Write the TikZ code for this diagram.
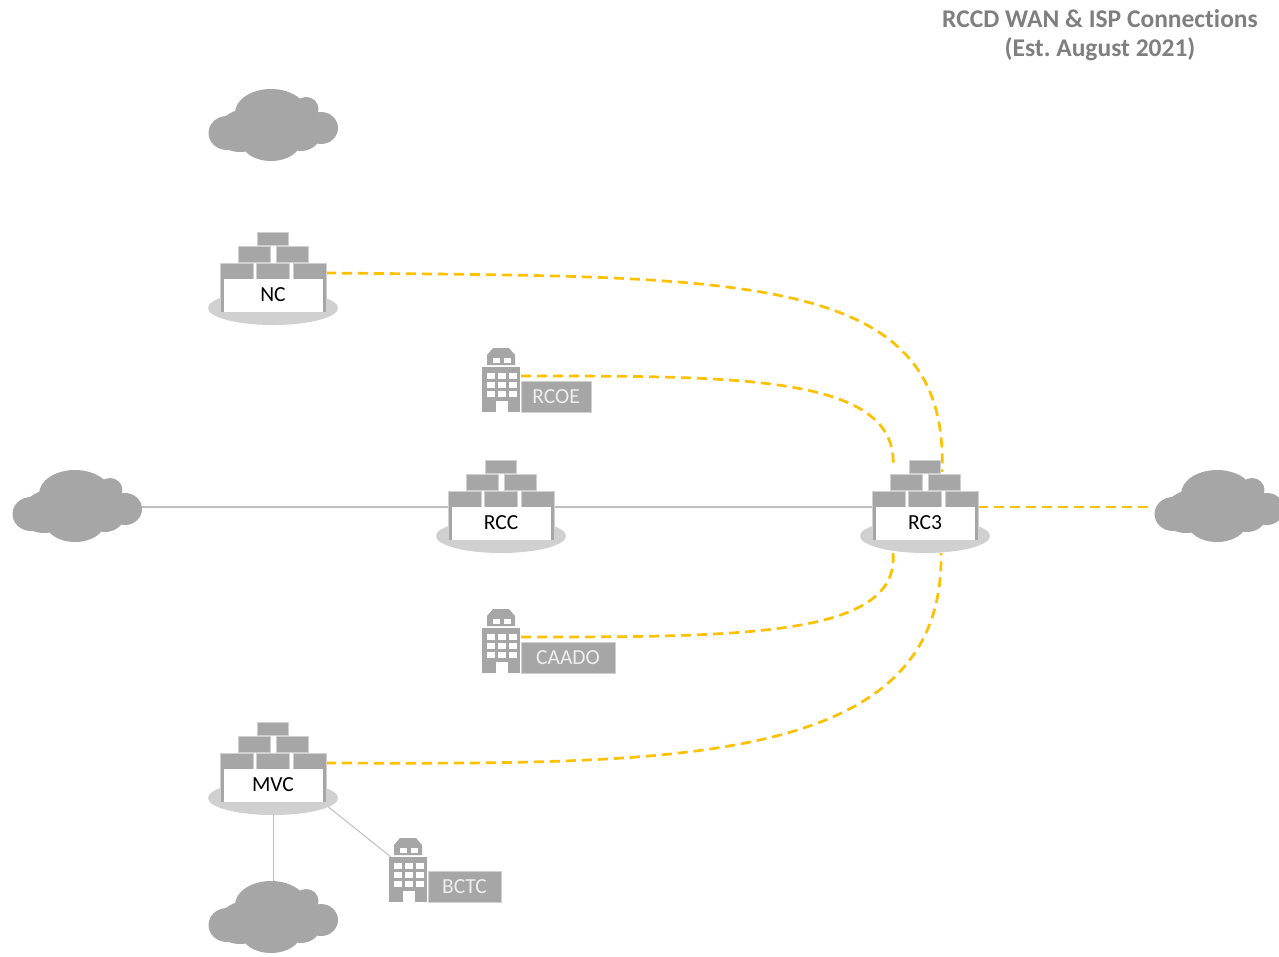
\documentclass[tikz,border=0pt]{standalone}
\usepackage{fontspec}
\setmainfont{Carlito}[Ligatures=NoCommon]
\usetikzlibrary{backgrounds}
\definecolor{blockgray}{HTML}{A6A6A6}
\definecolor{padgray}{HTML}{D0D0D0}
\definecolor{linkgray}{HTML}{BFBFBF}
\definecolor{wanyellow}{HTML}{FFC000}
\definecolor{titlegray}{HTML}{7F7F7F}
\tikzset{
    wan/.style={wanyellow, line width=2.7pt, dash pattern=on 10pt off 6pt},
    isp/.style={linkgray, line width=1.5pt},
    thinisp/.style={linkgray, line width=1pt},
    block/.style={fill=blockgray, draw=padgray, line width=1pt},
    sitebox/.style={fill=white, inner sep=0pt, minimum width=99pt, minimum height=33pt, font=\fontsize{21.5}{21.5}\selectfont},
    tagbox/.style={fill=blockgray, draw=padgray, line width=.6pt, inner sep=0pt, minimum height=31pt, text=white!93!black, font=\fontsize{21.5}{21.5}\selectfont},
    titletext/.style={titlegray, inner sep=0pt, font=\frenchspacing\fontsize{25.5}{25.5}\selectfont\bfseries},
    cloud/.pic={
        \fill[blockgray] (-46,8) ellipse [x radius=18.5, y radius=17];
        \fill[blockgray] (-2,-12) ellipse [x radius=36, y radius=24];
        \fill[blockgray] (33,-16) ellipse [x radius=12.5, y radius=12];
        \fill[blockgray] (48,3) ellipse [x radius=17, y radius=16];
        \fill[blockgray] (-2,16) ellipse [x radius=30, y radius=20];
        \fill[blockgray] (-33,15) ellipse [x radius=20, y radius=12];
        \fill[blockgray] (28,8) ellipse [x radius=20, y radius=18];
        \fill[blockgray] (-4,0) ellipse [x radius=48, y radius=20];
        \coordinate (-w) at (-65,1);
        \coordinate (-e) at (65,1);
        \coordinate (-n) at (0,-36);
    },
    campus/.pic={
        \fill[padgray] (0,14) ellipse [x radius=65, y radius=17];
        \draw[block] (-16,-62) rectangle (15,-49);
        \foreach \x in {-35,3} {\draw[block] (\x,-48) rectangle (\x+32,-32);}
        \foreach \x in {-53,-17,20} {\draw[block] (\x,-31) rectangle (\x+33,18);}
        \node[sitebox] (-box) at (0,1) {#1};
        \coordinate (-w) at (-53,-15);
        \coordinate (-e) at (53,-15);
        \coordinate (-ne) at (53,-21);
        \coordinate (-nl) at (-32,-54);
        \coordinate (-nr) at (17,-50);
        \coordinate (-sl) at (-32,31);
        \coordinate (-sr) at (16,31);
        \coordinate (-s) at (0,31);
        \coordinate (-se) at (53,21);
    },
    office/.pic={
        \fill[blockgray] (-8,-64) -- (8,-64) -- (14,-57) -- (14,-47) -- (-14,-47) -- (-14,-57) -- cycle;
        \fill[blockgray] (-19,-45) rectangle (19,0);
        \foreach \x in {-8,3} {\fill[white] (\x,-54) rectangle (\x+7,-49);}
        \foreach \x in {-14,-3,8} {
            \foreach \y in {-39,-30,-21} {\fill[white] (\x,\y) rectangle (\x+8,\y+6);}
        }
        \fill[white] (-5,-11) rectangle (7,0);
        \coordinate (-e) at (20,-36);
        \coordinate (-nw) at (-17,-45);
    },
}
\begin{document}
\begin{tikzpicture}[x=1pt, y=-1pt]
    \useasboundingbox (0,0) rectangle (1279,956);

    \node[titletext] (title) at (1100,19) {RCCD WAN \& ISP Connections};
    \node[titletext] (subtitle) at (1100,49.5) {(Est. August 2021)};

    \pic (topCloud) at (273,125) {cloud};
    \pic (leftCloud) at (77,506) {cloud};
    \pic (rightCloud) at (1219,506) {cloud};
    \pic (lowCloud) at (273,917) {cloud};

    \pic (nc) at (273,294) {campus=NC};
    \pic (rcc) at (501,522) {campus=RCC};
    \pic (rc3) at (925,522) {campus=RC3};
    \pic (mvc) at (273,784) {campus=MVC};

    \pic (rcoe) at (501,412) {office};
    \pic (caado) at (501,673) {office};
    \pic (bctc) at (408,902) {office};

    \node[tagbox, minimum width=70pt] (rcoeTag) at (556,396.5) {RCOE};
    \node[tagbox, minimum width=94pt] (caadoTag) at (568,657.5) {CAADO};
    \node[tagbox, minimum width=73pt] (bctcTag) at (464.5,886.5) {BCTC};

    % links go under the buildings
    \begin{scope}[on background layer]
        \draw[isp] (leftCloud-e) -- (rcc-w);
        \draw[isp] (rcc-e) -- (rc3-w);
        \draw[thinisp] (mvc-s) -- (lowCloud-n);
        \draw[thinisp] (mvc-se) -- (bctc-nw);
        \draw[wan] (rc3-e) -- (rightCloud-w);
        \draw[wan] (nc-ne) .. controls (740,277) and (950,270) .. (rc3-nr);
        \draw[wan] (rcoe-e) .. controls (740,376) and (900,375) .. (rc3-nl);
        \draw[wan] (caado-e) .. controls (740,637) and (900,637) .. (rc3-sl);
        \draw[wan] (mvc-ne) .. controls (670,764) and (945,768) .. (rc3-sr);
    \end{scope}
\end{tikzpicture}
\end{document}
